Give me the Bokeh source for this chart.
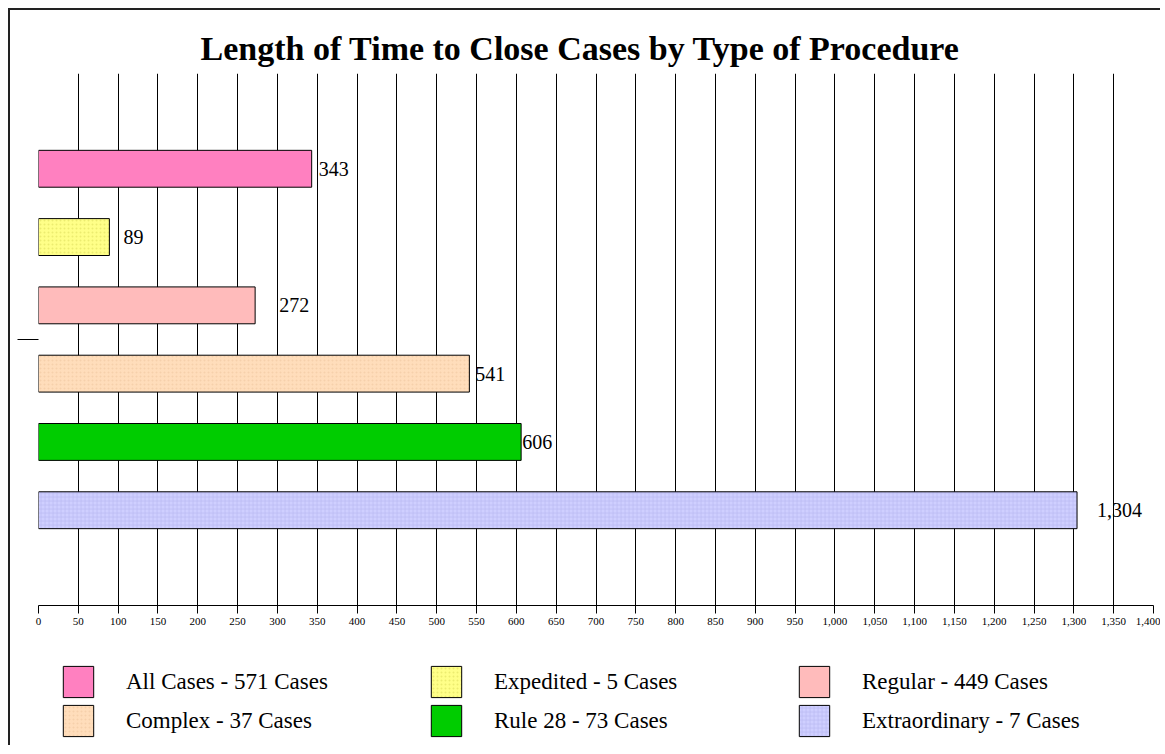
from bokeh.plotting import figure
from bokeh.layouts import column
from bokeh.models import (ColumnDataSource, Range1d, FactorRange, CategoricalAxis,
                          SingleIntervalTicker, NumeralTickFormatter, Legend, LegendItem, Title)
from bokeh.core.properties import value
from bokeh.embed import file_html
from bokeh.resources import INLINE

# ---- data ----
categories = ["All Cases", "Expedited", "Regular", "Complex", "Rule 28", "Extraordinary"]
case_counts = [571, 5, 449, 37, 73, 7]
days = [343, 89, 272, 541, 606, 1304]
legend_labels = [f"{c} - {n} Cases" for c, n in zip(categories, case_counts)]
value_labels = [f"{d:,}" for d in days]

# ---- styles ----
fill_colors = ["#FF80C0", "#FFFF88", "#FFBBBB", "#FFDDBB", "#00CC00", "#CFCFFF"]
hatch_patterns = [" ", "dot", " ", "dot", " ", "cross"]
hatch_colors = ["#FF80C0", "#E0E060", "#FFBBBB", "#F0C8A0", "#00CC00", "#B8B8F0"]
label_dx = [7, 14, 24, 6, 1, 20]

FONT = "Liberation Serif"
W = 1150

source = ColumnDataSource(dict(
    cat=categories, days=days, fill=fill_colors, hatch=hatch_patterns,
    hcolor=hatch_colors, lab=value_labels, dx=label_dx,
))

p = figure(
    width=W, height=625,
    x_range=Range1d(0, 1400),
    y_range=FactorRange(factors=list(reversed(categories)), range_padding=0.895,
                        range_padding_units="absolute"),
    y_axis_location=None,
    output_backend="svg", toolbar_location=None,
    min_border_left=28, min_border_right=7, min_border_top=63, min_border_bottom=30,
)
p.outline_line_color = None
p.background_fill_color = "white"
p.border_fill_color = "white"

p.add_layout(Title(text="Length of Time to Close Cases by Type of Procedure",
                   align="left", offset=162, standoff=14,
                   text_font=FONT, text_font_size="34px", text_font_style="bold",
                   text_color="black"), "above")

bars = p.hbar(y="cat", right="days", left=0, height=0.54, source=source,
              fill_color="fill", line_color="black", line_width=1,
              hatch_pattern="hatch", hatch_color="hcolor", hatch_alpha=0.6,
              hatch_scale=4, hatch_weight=1)

p.text(x="days", y="cat", text="lab", x_offset="dx", source=source,
       text_baseline="middle", text_align="left",
       text_font=value(FONT), text_font_size="20px", text_color="black")

# x axis and grid
ticker = SingleIntervalTicker(interval=50)
ax = p.xaxis[0]
ax.ticker = ticker
ax.formatter = NumeralTickFormatter(format="0,0")
ax.axis_line_color = "black"
ax.major_tick_line_color = "black"
ax.major_tick_in = 0
ax.major_tick_out = 8
ax.minor_tick_line_color = None
ax.major_label_text_font = FONT
ax.major_label_text_font_size = "11px"
ax.major_label_text_color = "black"
ax.major_label_standoff = 4

p.xgrid.ticker = ticker
p.xgrid.grid_line_color = "black"
p.xgrid.grid_line_width = 1
p.ygrid.grid_line_color = None

# single centre tick on the category axis
p.extra_y_ranges = {"tick": FactorRange(factors=["mid"], range_padding=0)}
yax = CategoricalAxis(y_range_name="tick",
                      axis_line_color=None, major_tick_line_color="black",
                      major_tick_in=0, major_tick_out=21, minor_tick_line_color=None,
                      major_label_text_font_size="0px", major_label_text_alpha=0,
                      major_label_standoff=0)
p.add_layout(yax, "left")

# ---- legend panel (separate figure below the chart) ----
leg = figure(width=W, height=110, x_range=Range1d(0, 1), y_range=Range1d(0, 1),
             output_backend="svg", toolbar_location=None,
             min_border=0, x_axis_location=None, y_axis_location=None)
leg.outline_line_color = None
leg.xgrid.visible = False
leg.ygrid.visible = False
# keyed swatches: same styling source; positioned outside this panel's view
swatches = leg.rect(x="days", y="days", width=1, height=1, source=source,
                    fill_color="fill", line_color="black", line_width=1,
                    hatch_pattern="hatch", hatch_color="hcolor", hatch_alpha=0.6,
                    hatch_scale=4, hatch_weight=1)

items = [LegendItem(label=lab, renderers=[swatches], index=i) for i, lab in enumerate(legend_labels)]
legend = Legend(items=items, orientation="horizontal", ncols=3,
                location=(21, 5),
                glyph_width=38, glyph_height=39, label_height=39,
                label_standoff=29, label_width=301, spacing=0,
                padding=0, margin=0,
                border_line_color=None, background_fill_alpha=0,
                label_text_font=FONT, label_text_font_size="23px",
                label_text_color="black")
leg.add_layout(legend, "center")

layout = column(p, leg, spacing=0,
                styles={"margin-left": "8px", "margin-top": "8px",
                        "border-left": "2px solid #222", "border-top": "2px solid #222"})

open("out.html", "w").write(file_html(layout, INLINE))
